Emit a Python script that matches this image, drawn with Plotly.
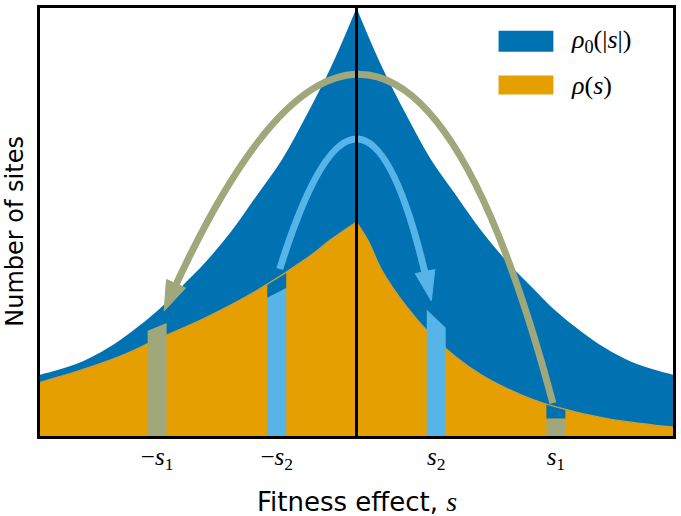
import numpy as np
import plotly.graph_objects as go

# ---------------- data ----------------
s_half = [0, 0.25, 0.5, 0.75, 1.0, 1.25, 1.5, 1.75, 2.0, 2.25, 2.5, 2.75, 3.0, 3.175]
rho0_half = [1.0, 0.865, 0.75, 0.645, 0.562, 0.48, 0.41, 0.35, 0.292, 0.245, 0.205, 0.174, 0.154, 0.143]

s_neg = [-3.175, -2.75, -2.375, -2.0, -1.5, -1.0, -0.5, -0.25, 0]
rho_neg = [0.125, 0.155, 0.186, 0.226, 0.278, 0.34, 0.415, 0.46, 0.50]

s_pos = [0, 0.12, 0.25, 0.5, 0.75, 1.0, 1.25, 1.5, 1.75, 2.0, 2.5, 3.0, 3.175]
rho_pos = [0.50, 0.455, 0.389, 0.303, 0.236, 0.184, 0.143, 0.112, 0.087, 0.068, 0.041, 0.025, 0.021]

s1, s2 = 2.0, 0.8
bar_w = 0.19
tick_vals = [-s1, -s2, s2, s1]
tick_text = ["\u2212<i>s</i><sub>1</sub>", "\u2212<i>s</i><sub>2</sub>",
             "<i>s</i><sub>2</sub>", "<i>s</i><sub>1</sub>"]

# bar tops (left edge, right edge)
bar_neg_s1_top = [0.246, 0.264]      # raised bar at -s1
bar_pos_s2_top = [0.295, 0.253]      # raised bar at s2
bar_neg_s2_top = [0.323, 0.346]      # lowered bar at -s2
bar_neg_s2_cap = [0.42, 0.42]
bar_pos_s1_top = [0.041, 0.041]      # lowered bar at s1
bar_pos_s1_cap = [0.08, 0.08]

# arrows: start, highest point, tip (s, height)
green_arrow = [(1.97, 0.077), (0.02, 0.845), (-1.93, 0.292)]
blue_arrow = [(-0.77, 0.39), (0.0, 0.694), (0.75, 0.316)]

# ---------------- colours ----------------
C_BLUE = "#0072B2"
C_ORANGE = "#E69F00"
C_SKY = "#56B4E9"
C_GREEN = "#A0A77B"
C_EDGE = "#C9A03A"

x_lo, x_hi = -3.175, 3.175
W, H = 635, 431

fig = go.Figure()

# blue rho0(|s|) : two halves so the cusp stays sharp
s_left_b = [-v for v in s_half[::-1]]
r_left_b = rho0_half[::-1]
for xs, ys in [(s_left_b, r_left_b), (s_half, rho0_half)]:
    fig.add_trace(go.Scatter(x=xs, y=ys, mode="lines", line=dict(color=C_BLUE, width=0, shape="spline"),
                             fill="tozeroy", fillcolor=C_BLUE, hoverinfo="skip", showlegend=False))
# orange rho(s)
for xs, ys in [(s_neg, rho_neg), (s_pos, rho_pos)]:
    fig.add_trace(go.Scatter(x=xs, y=ys, mode="lines", line=dict(color=C_ORANGE, width=0, shape="spline"),
                             fill="tozeroy", fillcolor=C_ORANGE, hoverinfo="skip", showlegend=False))


def bar(center, bottom, top, color):
    l, r = center - bar_w / 2, center + bar_w / 2
    fig.add_trace(go.Scatter(x=[l, l, r, r, l], y=[bottom[0], top[0], top[1], bottom[1], bottom[0]],
                             mode="lines", line=dict(width=0, color=color), fill="toself",
                             fillcolor=color, hoverinfo="skip", showlegend=False))


# lowered bars (material removed shown as dark-blue cap)
bar(-s2, [0, 0], bar_neg_s2_top, C_SKY)
bar(-s2, bar_neg_s2_top, bar_neg_s2_cap, C_BLUE)
bar(s1, [0, 0], bar_pos_s1_top, C_GREEN)
bar(s1, bar_pos_s1_top, bar_pos_s1_cap, C_BLUE)

# orange edge line
for xs, ys in [(s_neg, rho_neg), (s_pos, rho_pos)]:
    fig.add_trace(go.Scatter(x=xs, y=ys, mode="lines", line=dict(color=C_EDGE, width=1.3, shape="spline"),
                             hoverinfo="skip", showlegend=False))

# raised bars
bar(-s1, [0, 0], bar_neg_s1_top, C_GREEN)
bar(s2, [0, 0], bar_pos_s2_top, C_SKY)


def to_px(p):
    return np.array([(p[0] - x_lo) / (x_hi - x_lo) * W, p[1] * H])


def to_data(p):
    return (p[0] / W * (x_hi - x_lo) + x_lo, p[1] / H)


shapes = []


def arrow(pts, color, width, head_len, head_w):
    P0, A, P2 = [to_px(p) for p in pts]
    # control point so that the curve's highest point is A
    y1 = A[1] + np.sqrt((A[1] - P0[1]) * (A[1] - P2[1]))
    tt = (P0[1] - y1) / (P0[1] - 2 * y1 + P2[1])
    x1 = (A[0] - (1 - tt) ** 2 * P0[0] - tt ** 2 * P2[0]) / (2 * tt * (1 - tt))
    P1 = np.array([x1, y1])
    ts = np.linspace(0, 1, 4001)
    B = ((1 - ts) ** 2)[:, None] * P0 + (2 * (1 - ts) * ts)[:, None] * P1 + (ts ** 2)[:, None] * P2
    d = np.linalg.norm(B - P2, axis=1)
    idx = np.where(d >= head_len * 0.7)[0][-1]
    t = ts[idx]
    Q1 = (1 - t) * P0 + t * P1
    Bt = B[idx]
    a, c, e = to_data(P0), to_data(Q1), to_data(Bt)
    shapes.append(dict(type="path", xref="x", yref="y", layer="above",
                       path=f"M {a[0]},{a[1]} Q {c[0]},{c[1]} {e[0]},{e[1]}",
                       line=dict(color=color, width=width)))
    direc = (P2 - P1) / np.linalg.norm(P2 - P1)
    base = P2 - direc * head_len
    perp = np.array([-direc[1], direc[0]])
    b1, b2 = to_data(base + perp * head_w / 2), to_data(base - perp * head_w / 2)
    tp = to_data(P2)
    shapes.append(dict(type="path", xref="x", yref="y", layer="above",
                       path=f"M {b1[0]},{b1[1]} L {tp[0]},{tp[1]} L {b2[0]},{b2[1]} Z",
                       fillcolor=color, line=dict(color=color, width=1)))


arrow(green_arrow, C_GREEN, 7, 30, 21)
arrow(blue_arrow, C_SKY, 7, 30, 20)

# centre line
shapes.append(dict(type="line", xref="x", yref="paper", x0=0, x1=0, y0=0, y1=1, layer="above",
                   line=dict(color="black", width=3)))

# legend patches
shapes.append(dict(type="rect", xref="paper", yref="paper", x0=0.7244, x1=0.811, y0=0.898, y1=0.9466,
                   fillcolor=C_BLUE, line=dict(width=0), layer="above"))
shapes.append(dict(type="rect", xref="paper", yref="paper", x0=0.7244, x1=0.811, y0=0.798, y1=0.842,
                   fillcolor=C_ORANGE, line=dict(width=0), layer="above"))

serif = "Liberation Serif"
annotations = [
    dict(xref="paper", yref="paper", x=0.836, y=0.922, xanchor="left", yanchor="middle", showarrow=False,
         text="<i>ρ</i><sub>0</sub>(|<i>s</i>|)", font=dict(family=serif, size=26, color="black")),
    dict(xref="paper", yref="paper", x=0.836, y=0.820, xanchor="left", yanchor="middle", showarrow=False,
         text="<i>ρ</i>(<i>s</i>)", font=dict(family=serif, size=26, color="black")),
    dict(xref="paper", yref="paper", x=0.5, y=-0.153, xanchor="center", yanchor="middle", showarrow=False,
         text="Fitness effect, <i><span style='font-family:Liberation Serif;font-size:28px'>s</span></i>",
         font=dict(family="DejaVu Sans", size=26, color="black")),
    dict(xref="paper", yref="paper", x=-0.039, y=0.478, xanchor="center", yanchor="middle", showarrow=False,
         textangle=-90, text="Number of sites", font=dict(family="DejaVu Sans", size=24, color="black")),
]

fig.update_layout(
    width=681, height=516,
    margin=dict(l=40, r=6, t=5, b=80),
    plot_bgcolor="white", paper_bgcolor="white",
    shapes=shapes, annotations=annotations,
    xaxis=dict(range=[x_lo, x_hi], showgrid=False, zeroline=False, showline=True, mirror=True,
               linecolor="black", linewidth=3, tickvals=tick_vals, ticktext=tick_text, ticks="",
               ticklabelstandoff=-4,
               tickfont=dict(family=serif, size=25, color="black")),
    yaxis=dict(range=[0, 1], showgrid=False, zeroline=False, showline=True, mirror=True,
               linecolor="black", linewidth=3, showticklabels=False, ticks=""),
)

fig.write_html("out.html", config={"displayModeBar": False},
               post_script="document.body.style.margin='0';document.body.style.padding='0';")
